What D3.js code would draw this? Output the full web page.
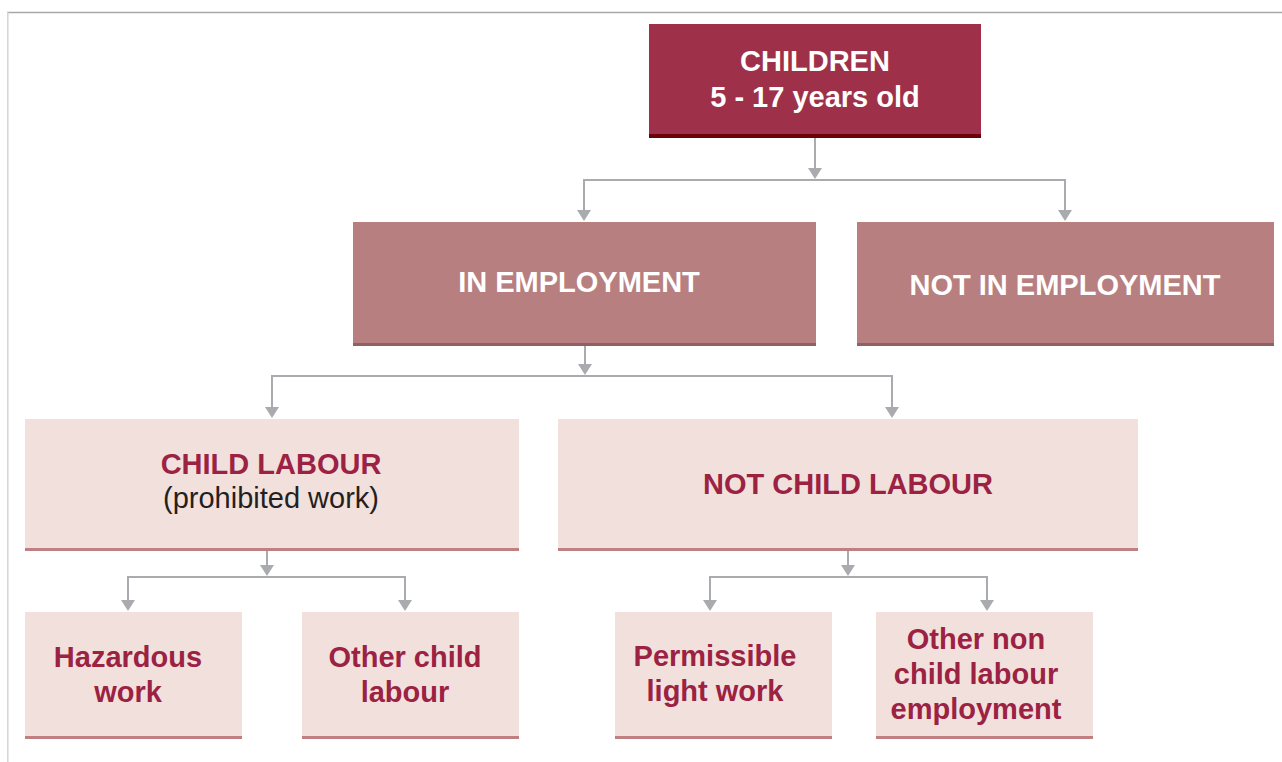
<!DOCTYPE html>
<html>
<head>
<meta charset="utf-8">
<script src="https://cdn.jsdelivr.net/npm/d3@7"></script>
<style>
  html, body { margin: 0; padding: 0; background: #fff; }
  svg { display: block; font-family: "Liberation Sans", Arial, sans-serif; }
</style>
</head>
<body>
<svg id="chart" width="1282" height="762"></svg>
<script>
// tree content
const nodeIds = ["children", "inEmp", "notInEmp", "childLabour", "notChildLabour",
                 "hazardous", "otherChild", "permissible", "otherNon"];
const nodeParents = ["", "children", "children", "inEmp", "inEmp",
                     "childLabour", "childLabour", "notChildLabour", "notChildLabour"];
const nodeTitles = [
    ["CHILDREN", "5 - 17 years old"],
    ["IN EMPLOYMENT"],
    ["NOT IN EMPLOYMENT"],
    ["CHILD LABOUR"],
    ["NOT CHILD LABOUR"],
    ["Hazardous", "work"],
    ["Other child", "labour"],
    ["Permissible", "light work"],
    ["Other non", "child labour", "employment"]
];
const nodeNotes = ["", "", "", "(prohibited work)", "", "", "", "", ""];

// box geometry (layout only): x0, x1, y0, y1, text centre x, first baseline, arrow-in x, link-out x, bus y
const geom = {
    children:       {x0: 649, x1: 981,  y0: 24,  y1: 138, tx: 815, ty: 71,  inX: null, outX: 815, busY: 180},
    inEmp:          {x0: 353, x1: 816,  y0: 222, y1: 346, tx: 579, ty: 292, inX: 584,  outX: 585, busY: 376},
    notInEmp:       {x0: 857, x1: 1274, y0: 222, y1: 346, tx: 1065, ty: 295, inX: 1065, outX: null},
    childLabour:    {x0: 25,  x1: 519,  y0: 419, y1: 551, tx: 271, ty: 474, inX: 272,  outX: 267, busY: 577},
    notChildLabour: {x0: 558, x1: 1138, y0: 419, y1: 551, tx: 848, ty: 494, inX: 892,  outX: 848, busY: 577},
    hazardous:      {x0: 25,  x1: 242,  y0: 612, y1: 739, tx: 128, ty: 667, inX: 128,  outX: null},
    otherChild:     {x0: 302, x1: 519,  y0: 612, y1: 739, tx: 405, ty: 667, inX: 405,  outX: null},
    permissible:    {x0: 615, x1: 832,  y0: 612, y1: 739, tx: 715, ty: 666, inX: 710,  outX: null},
    otherNon:       {x0: 876, x1: 1093, y0: 612, y1: 739, tx: 976, ty: 649, inX: 987,  outX: null}
};

// style per depth
const levelFill   = ["#9e3149", "#b87f80", "#f2e0dc", "#f2e0dc"];
const levelBar    = ["#6b0008", "#8f6163", "#c07f80", "#c07f80"];
const levelBarH   = [4, 3, 3, 3];
const levelText   = ["#ffffff", "#ffffff", "#9b2243", "#9b2243"];
const lineGap     = [36, 36, 34, 35];
const linkColor = "#a9abae";

const table = nodeIds.map((id, i) => ({
    id: id, parent: nodeParents[i] || null, title: nodeTitles[i], note: nodeNotes[i]
}));
const root = d3.stratify().id(d => d.id).parentId(d => d.parent)(table);

const svg = d3.select("#chart");

// frame lines
svg.append("line").attr("x1", 7).attr("x2", 1282).attr("y1", 12.5).attr("y2", 12.5)
    .attr("stroke", "#a8a8a8").attr("stroke-width", 1.5);
svg.append("line").attr("x1", 7.8).attr("x2", 7.8).attr("y1", 12).attr("y2", 762)
    .attr("stroke", "#d4d4d4").attr("stroke-width", 1.5);

// arrowhead
function arrow(g, x, tipY) {
    g.append("path")
        .attr("d", `M${x - 7},${tipY - 11}L${x + 7},${tipY - 11}L${x},${tipY}Z`)
        .attr("fill", linkColor);
}

// connectors
const links = svg.append("g");
root.descendants().filter(n => n.children).forEach(n => {
    const g0 = geom[n.id];
    const kids = n.children.map(c => geom[c.id]);
    const busY = g0.busY;
    links.append("line").attr("x1", g0.outX).attr("x2", g0.outX)
        .attr("y1", g0.y1).attr("y2", busY - 4)
        .attr("stroke", linkColor).attr("stroke-width", 2);
    arrow(links, g0.outX, busY - 1);
    const xs = kids.map(k => k.inX);
    links.append("path")
        .attr("d", `M${d3.min(xs)},${kids[0].y0 - 4}V${busY}H${d3.max(xs)}V${kids[0].y0 - 4}`)
        .attr("fill", "none").attr("stroke", linkColor).attr("stroke-width", 2);
    kids.forEach(k => arrow(links, k.inX, k.y0 - 1));
});

// boxes
const nodes = svg.append("g").selectAll("g")
    .data(root.descendants())
    .join("g");

nodes.append("rect")
    .attr("x", d => geom[d.id].x0)
    .attr("y", d => geom[d.id].y0)
    .attr("width", d => geom[d.id].x1 - geom[d.id].x0)
    .attr("height", d => geom[d.id].y1 - geom[d.id].y0)
    .attr("fill", d => levelFill[d.depth]);

nodes.append("rect")
    .attr("x", d => geom[d.id].x0)
    .attr("y", d => geom[d.id].y1 - levelBarH[d.depth])
    .attr("width", d => geom[d.id].x1 - geom[d.id].x0)
    .attr("height", d => levelBarH[d.depth])
    .attr("fill", d => levelBar[d.depth]);

nodes.each(function(d) {
    const g = d3.select(this);
    const gm = geom[d.id];
    const lines = d.data.title;
    lines.forEach((t, i) => {
        g.append("text")
            .attr("x", gm.tx)
            .attr("y", gm.ty + i * lineGap[d.depth])
            .attr("text-anchor", "middle")
            .attr("font-size", 29)
            .attr("font-weight", "bold")
            .attr("fill", levelText[d.depth])
            .text(t);
    });
    if (d.data.note) {
        g.append("text")
            .attr("x", gm.tx)
            .attr("y", gm.ty + lines.length * lineGap[d.depth])
            .attr("text-anchor", "middle")
            .attr("font-size", 29)
            .attr("fill", "#231f20")
            .text(d.data.note);
    }
});
</script>
</body>
</html>
